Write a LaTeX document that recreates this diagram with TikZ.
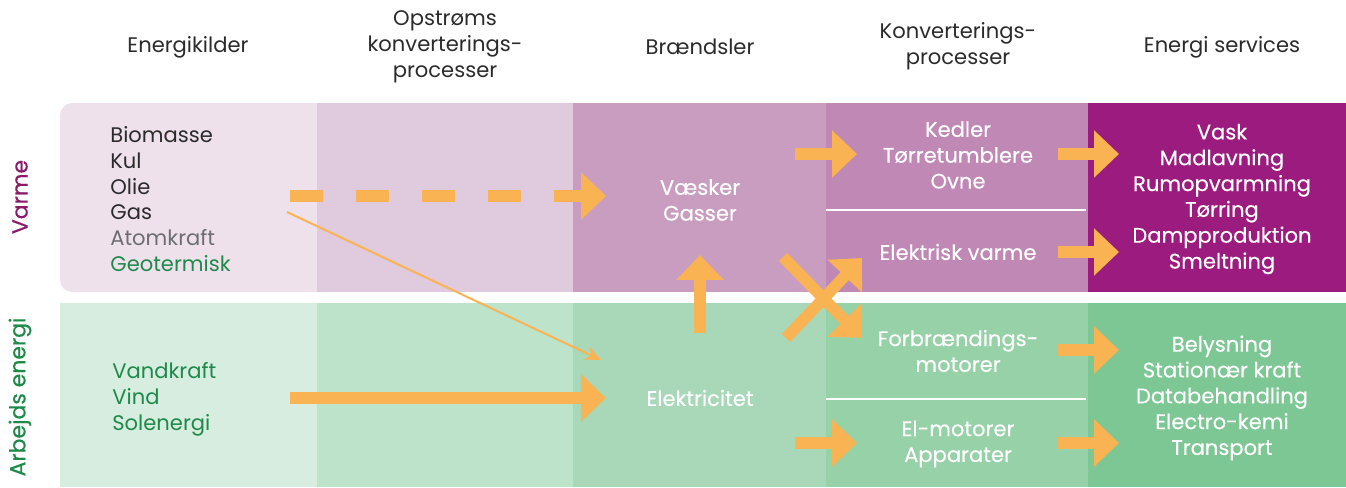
\documentclass[tikz,border=0pt]{standalone}
\usepackage{fontspec}
\setmainfont{Poppins}
\newfontfamily\tykfont{Poppins}[FakeBold=0.5]
\newfontfamily\halvfont{Poppins}[FakeBold=0.25]
\usetikzlibrary{arrows.meta,positioning}

\definecolor{ink}{HTML}{2B2B2B}
\definecolor{greyc}{HTML}{6D6E71}
\definecolor{grn}{HTML}{1E8A4A}
\definecolor{mag}{HTML}{8B1A6B}
\definecolor{arrowc}{HTML}{F9B352}
\definecolor{varmeA}{HTML}{EFE1EC}
\definecolor{varmeB}{HTML}{E0CADD}
\definecolor{varmeC}{HTML}{C89DC0}
\definecolor{varmeD}{HTML}{C088B5}
\definecolor{varmeE}{HTML}{9B1C7E}
\definecolor{arbA}{HTML}{D6EDDF}
\definecolor{arbB}{HTML}{BDE3CA}
\definecolor{arbC}{HTML}{A8D8B8}
\definecolor{arbD}{HTML}{96D1A8}
\definecolor{arbE}{HTML}{7DC795}

\tikzset{
  lbl/.style={inner sep=0pt,font=\fontsize{12}{14.7}\selectfont,align=center,text=ink},
  wlbl/.style={lbl,text=white,font=\fontsize{12}{14.7}\selectfont\halvfont},
  side/.style={lbl,rotate=90,font=\fontsize{12.5}{14.7}\selectfont\tykfont},
  flow/.style={draw=arrowc,line width=0.23cm,-{Triangle[length=0.5cm,width=0.92cm]}},
  thinflow/.style={draw=arrowc,line width=0.04cm,-{Stealth[length=0.32cm,width=0.28cm]}}
}

\begin{document}
\begin{tikzpicture}[x=0.02cm,y=-0.02cm]
		\useasboundingbox (0,0) rectangle (1346,487);
		% baggrund
		\fill[varmeA,rounded corners=7pt] (60,103) rectangle (340,292);
		\fill[varmeB] (317,103) rectangle (573,292);
		\fill[varmeC] (573,103) rectangle (826,292);
		\fill[varmeD] (826,103) rectangle (1088,292);
		\fill[varmeE] (1088,103) rectangle (1346,292);
		\fill[arbA] (60,303) rectangle (317,487);
		\fill[arbB] (317,303) rectangle (573,487);
		\fill[arbC] (573,303) rectangle (826,487);
		\fill[arbD] (826,303) rectangle (1088,487);
		\fill[arbE] (1088,303) rectangle (1346,487);
		\draw[white,line width=1pt] (826,210)--(1086,210);
		\draw[white,line width=1pt] (826,399)--(1086,399);
		% overskrifter
		\node[lbl] (hKilder) at (188,47) {Energikilder};
		\node[lbl] (hOpstroms) at (445,47) {Opstrøms\\konverterings-\\processer};
		\node[lbl] (hBraend) at (700,47) {Brændsler};
		\node[lbl] (hKonv) at (958,46) {Konverterings-\\processer};
		\node[lbl] (hServ) at (1222,47) {Energi services};
		\node[side,text=mag] (sVarme) at (20,197) {Varme};
		\node[side,text=grn] (sArb) at (20,397) {Arbejds energi};
		% tekster
		\node[lbl,anchor=west,align=left] (kilder) at (110,199) {Biomasse\\Kul\\Olie\\Gas\\\textcolor{greyc}{Atomkraft}\\\textcolor{grn}{Geotermisk}};
		\node[lbl,anchor=west,align=left,text=grn] (fornybar) at (112,399) {Vandkraft\\Vind\\Solenergi};
		\node[wlbl] (vaesker) at (700,200) {Væsker\\Gasser};
		\node[wlbl] (elek) at (700,398) {Elektricitet};
		\node[wlbl] (kedler) at (958,155) {Kedler\\Tørretumblere\\Ovne};
		\node[wlbl] (elvarme) at (958,252) {Elektrisk varme};
		\node[wlbl] (forbr) at (958,351) {Forbrændings-\\motorer};
		\node[wlbl] (elmot) at (958,444) {El-motorer\\Apparater};
		\node[wlbl] (servV) at (1222,199) {Vask\\Madlavning\\Rumopvarmning\\Tørring\\Dampproduktion\\Smeltning};
		\node[wlbl] (servA) at (1222,398) {Belysning\\Stationær kraft\\Databehandling\\Electro-kemi\\Transport};
		% pile
		\coordinate (dashS) at (290,196);
		\coordinate (dashE) at (606,196);
		\coordinate (thinS) at (287,212);
		\coordinate (thinE) at (601,360);
		\coordinate (solS) at (290,398);
		\coordinate (solE) at (606,398);
		\coordinate (opS) at (700,333);
		\coordinate (opE) at (700,255);
		\coordinate (krA) at (783,257);
		\coordinate (krB) at (862,338);
		\coordinate (krC) at (786,338);
		\coordinate (krD) at (862,258);
		\draw[flow,dash pattern=on 0.66cm off 0.66cm] (dashS)--(dashE);
		\draw[thinflow] (thinS)--(thinE);
		\draw[flow] (solS)--(solE);
		\draw[flow] (opS)--(opE);
		\draw[flow] (krA)--(krB);
		\draw[flow] (krC)--(krD);
		\draw[flow] (795,154)--(857,154);
		\draw[flow] (795,443)--(857,443);
		\foreach \y in {154,252,350,443}
			\draw[flow] (1058,\y)--(1119,\y);
\end{tikzpicture}
\end{document}
